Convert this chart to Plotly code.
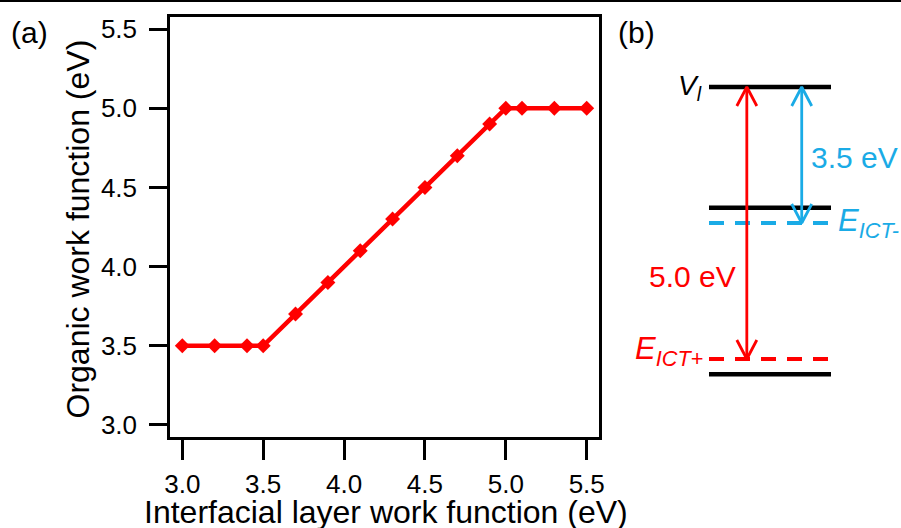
import plotly.graph_objects as go

# ---------------- data: panel (a) ----------------
interfacial_wf = [3.0, 3.2, 3.4, 3.5, 3.7, 3.9, 4.1, 4.3, 4.5, 4.7, 4.9, 5.0, 5.1, 5.3, 5.5]
organic_wf = [3.5, 3.5, 3.5, 3.5, 3.7, 3.9, 4.1, 4.3, 4.5, 4.7, 4.9, 5.0, 5.0, 5.0, 5.0]
tick_vals = [3.0, 3.5, 4.0, 4.5, 5.0, 5.5]
tick_text = ["3.0", "3.5", "4.0", "4.5", "5.0", "5.5"]
x_title = "Interfacial layer work function (eV)"
y_title = "Organic work function (eV)"

# ---------------- data: panel (b) schematic (energy in schematic units, V_l = 0) ----------------
level_x = [0.0, 1.0]
vacuum_level = 0.0
black_levels = [0.0, -2.22, -5.28]
ict_minus = -2.5
ict_plus = -5.0
red_arrow_x = 0.31
cyan_arrow_x = 0.76
gap_labels = ["3.5 eV", "5.0 eV"]

RED = "#FF0000"
CYAN = "#1AABE6"
FONT = "Liberation Sans, Arial, sans-serif"

# schematic axis scale (pixels per unit)
PX_X = 122.0
PX_Y = 54.4
head_hw = 10 / PX_X
head_hh = 19 / PX_Y

fig = go.Figure()

fig.add_trace(go.Scatter(
    x=interfacial_wf, y=organic_wf, mode="lines+markers",
    line=dict(color=RED, width=4.5),
    marker=dict(symbol="diamond", size=11.5, color=RED),
    xaxis="x", yaxis="y", showlegend=False, hoverinfo="skip"))

# black energy levels
for yv in black_levels:
    fig.add_trace(go.Scatter(x=level_x, y=[yv, yv], mode="lines",
                             line=dict(color="black", width=4.5),
                             xaxis="x2", yaxis="y2", showlegend=False, hoverinfo="skip"))
# dashed ICT levels
for yv, col in [(ict_minus, CYAN), (ict_plus, RED)]:
    fig.add_trace(go.Scatter(x=level_x, y=[yv, yv], mode="lines",
                             line=dict(color=col, width=4, dash="15px,11px"),
                             xaxis="x2", yaxis="y2", showlegend=False, hoverinfo="skip"))

# double-headed arrows with open heads
for ax_x, y_bot, col in [(red_arrow_x, ict_plus, RED), (cyan_arrow_x, ict_minus, CYAN)]:
    fig.add_trace(go.Scatter(x=[ax_x, ax_x], y=[vacuum_level, y_bot], mode="lines",
                             line=dict(color=col, width=2.8),
                             xaxis="x2", yaxis="y2", showlegend=False, hoverinfo="skip"))
    fig.add_trace(go.Scatter(x=[ax_x - head_hw, ax_x, ax_x + head_hw],
                             y=[vacuum_level - head_hh, vacuum_level, vacuum_level - head_hh],
                             mode="lines", line=dict(color=col, width=2.8),
                             xaxis="x2", yaxis="y2", showlegend=False, hoverinfo="skip"))
    fig.add_trace(go.Scatter(x=[ax_x - head_hw, ax_x, ax_x + head_hw],
                             y=[y_bot + head_hh, y_bot, y_bot + head_hh],
                             mode="lines", line=dict(color=col, width=2.8),
                             xaxis="x2", yaxis="y2", showlegend=False, hoverinfo="skip"))

axis_common = dict(showline=True, linecolor="black", linewidth=2.5, mirror=True,
                   ticks="outside", tickcolor="black", tickwidth=2.5,
                   showgrid=False, zeroline=False,
                   tickfont=dict(size=26, color="black", family=FONT),
                   tickvals=tick_vals, ticktext=tick_text)

fig.update_layout(
    width=901, height=528,
    margin=dict(l=170, r=1, t=17, b=91),
    paper_bgcolor="white", plot_bgcolor="white",
    font=dict(family=FONT, color="black"),
    xaxis=dict(domain=[0, 429 / 730], range=[2.924, 5.576], ticklen=20,
               ticklabelstandoff=2, automargin=False, **axis_common),
    yaxis=dict(domain=[0, 1], range=[2.924, 5.576], ticklen=18,
               ticklabelstandoff=7, automargin=False, **axis_common),
    xaxis2=dict(domain=[460 / 730, 1], range=[-79 / PX_X, 191 / PX_X], visible=False,
                anchor="y2"),
    yaxis2=dict(domain=[0, 1], range=[-350 / PX_Y, 70 / PX_Y], visible=False,
                anchor="x2"),
)

ann = []
ann.append(dict(text=x_title, xref="paper", yref="paper", x=216 / 730, y=(437 - 512) / 420,
                xanchor="center", yanchor="middle", showarrow=False,
                font=dict(size=32, color="black")))
ann.append(dict(text=y_title, xref="paper", yref="paper", x=(77 - 170) / 730, y=(437 - 229.5) / 420,
                xanchor="center", yanchor="middle", showarrow=False, textangle=-90,
                font=dict(size=32, color="black")))
ann.append(dict(text="(a)", xref="paper", yref="paper", x=-141 / 730, y=(437 - 33) / 420,
                xanchor="center", yanchor="middle", showarrow=False,
                font=dict(size=30, color="black")))
ann.append(dict(text="(b)", xref="paper", yref="paper", x=466 / 730, y=(437 - 33) / 420,
                xanchor="center", yanchor="middle", showarrow=False,
                font=dict(size=30, color="black")))
ann.append(dict(text=gap_labels[0], xref="x2", yref="y2", x=0.82, y=-1.29,
                xanchor="left", yanchor="middle", showarrow=False,
                font=dict(size=30, color=CYAN)))
ann.append(dict(text=gap_labels[1], xref="x2", yref="y2", x=0.24, y=-3.49,
                xanchor="right", yanchor="middle", showarrow=False,
                font=dict(size=30, color=RED)))
ann.append(dict(text="<i>V</i><sub><i>l</i></sub>", xref="x2", yref="y2", x=-0.04, y=vacuum_level,
                xanchor="right", yanchor="middle", showarrow=False,
                font=dict(size=28, color="black")))
ann.append(dict(text="<i>E</i><sub><i>ICT-</i></sub>", xref="x2", yref="y2", x=1.04, y=ict_minus,
                xanchor="left", yanchor="middle", showarrow=False,
                font=dict(size=31, color=CYAN)))
ann.append(dict(text="<i>E</i><sub><i>ICT+</i></sub>", xref="x2", yref="y2", x=-0.03, y=ict_plus + 0.15,
                xanchor="right", yanchor="middle", showarrow=False,
                font=dict(size=31, color=RED)))
fig.update_layout(annotations=ann)

# top border line of the figure
fig.add_shape(type="line", xref="paper", yref="paper", x0=-170 / 730, x1=731 / 730,
              y0=436 / 420, y1=436 / 420, line=dict(color="black", width=2))

fig.write_html("out.html")
